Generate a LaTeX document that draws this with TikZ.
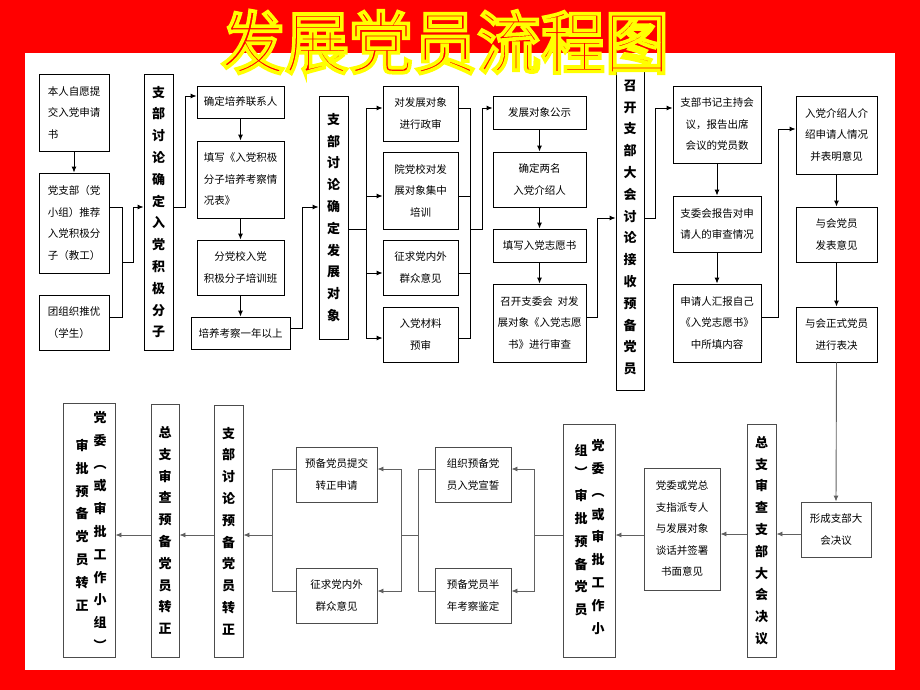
\documentclass[tikz,border=0pt]{standalone}
\usepackage{fontspec}
\usepackage{graphicx}
\setmainfont{Noto Sans CJK SC}
\usetikzlibrary{arrows.meta}
\tikzset{
  bx/.style={draw=black, line width=0.9pt, fill=white, inner sep=0pt, font=\fontsize{10.5}{21.5}\selectfont, align=center},
  lbx/.style={bx, align=left},
  vbx/.style={bx, font=\bfseries\fontsize{13}{21.8}\selectfont},
  gbx/.style={draw=black!70},
  vcol/.style={inner sep=0pt, align=center, font=\bfseries\fontsize{13}{22.8}\selectfont},
  ln/.style={line width=0.9pt, draw=black},
  arr/.style={ln, -{Latex[length=6pt,width=5pt]}},
  gl/.style={draw=black!62},
  tt/.style={inner sep=0pt, font=\fontsize{64}{64}\selectfont},
}
\newcommand\bx[7][]{\node[bx,#1,minimum width={(#5-#3)*1pt},minimum height={(#6-#4)*1pt}] (#2) at ({(#3+#5)/2},{(#4+#6)/2}) {#7};}
\newcommand\outlinedtitle[1]{\special{pdf:literal direct 2 Tr 3.5 w 1 1 0 RG 1 0 0 rg}#1\special{pdf:literal direct 0 Tr 1 w 0 0 0 RG}}
\begin{document}
\begin{tikzpicture}[x=1pt,y=-1pt]
\fill[red] (0,0) rectangle (920,690);
\fill[white] (25,53) rectangle (895,670);
\useasboundingbox (0,0) rectangle (920,690);
% y levels
\foreach \v in {96,108,129,196,207,218,229,273,317,328,338,469,534,535,591} {\coordinate (y\v) at (0,\v);}
% ---- top row boxes
\bx[lbx]{A1}{39}{74}{109}{151}{本人自愿提\\交入党申请\\书}
\bx[lbx]{A2}{39}{173}{109}{273}{党支部（党\\小组）推荐\\入党积极分\\子（教工）}
\bx[lbx]{A3}{39}{295}{109}{350}{团组织推优\\（学生）}
\bx[vbx]{B1}{144}{74}{173}{350}{支\\部\\讨\\论\\确\\定\\入\\党\\积\\极\\分\\子}
\bx{C1}{197}{86}{284}{118}{确定培养联系人}
\bx[lbx]{C2}{197}{141}{284}{218}{填写《入党积极\\分子培养考察情\\况表》}
\bx{C3}{197}{240}{284}{295}{分党校入党\\积极分子培训班}
\bx{C4}{191}{317}{290}{349}{培养考察一年以上}
\bx[vbx]{D1}{319}{96}{348}{339}{支\\部\\讨\\论\\确\\定\\发\\展\\对\\象}
\bx{E1}{383}{86}{458}{141}{对发展对象\\进行政审}
\bx{E2}{383}{152}{458}{229}{院党校对发\\展对象集中\\培训}
\bx{E3}{383}{240}{458}{295}{征求党内外\\群众意见}
\bx{E4}{383}{307}{458}{362}{入党材料\\预审}
\bx{F1}{493}{96}{586}{129}{发展对象公示}
\bx{F2}{493}{152}{586}{207}{确定两名\\入党介绍人}
\bx{F3}{493}{229}{586}{262}{填写入党志愿书}
\bx{F4}{493}{284}{586}{362}{召开支委会\ \ 对发\\展对象《入党志愿\\书》进行审查}
\bx[vbx]{G1}{616}{65}{644}{390}{召\\开\\支\\部\\大\\会\\讨\\论\\接\\收\\预\\备\\党\\员}
\bx{H1}{673}{86}{761}{163}{支部书记主持会\\议，报告出席\\会议的党员数}
\bx{H2}{673}{196}{761}{252}{支委会报告对申\\请人的审查情况}
\bx{H3}{673}{284}{761}{362}{申请人汇报自己\\《入党志愿书》\\中所填内容}
\bx{I1}{796}{96}{877}{174}{入党介绍人介\\绍申请人情况\\并表明意见}
\bx{I2}{796}{207}{877}{262}{与会党员\\发表意见}
\bx{I3}{796}{307}{877}{362}{与会正式党员\\进行表决}
% ---- bottom row boxes
\bx[gbx]{J1}{801}{502}{871}{557}{形成支部大\\会决议}
\bx[vbx,gbx]{K1}{747}{424}{776}{657}{总\\支\\审\\查\\支\\部\\大\\会\\决\\议}
\bx[gbx]{L1}{644}{468}{720}{590}{党委或党总\\支指派专人\\与发展对象\\谈话并签署\\书面意见}
\bx[gbx]{M1}{563}{424}{615}{657}{}
\node[vcol] (M1r) at (598,537) {党\\委\\︵\\或\\审\\批\\工\\作\\小};
\node[vcol] (M1l) at (581,530) {组\\︶\\审\\批\\预\\备\\党\\员};
\bx[gbx]{N1}{435}{447}{511}{502}{组织预备党\\员入党宣誓}
\bx[gbx]{N2}{435}{568}{511}{623}{预备党员半\\年考察鉴定}
\bx[gbx]{O1}{296}{447}{377}{502}{预备党员提交\\转正申请}
\bx[gbx]{O2}{296}{568}{377}{623}{征求党内外\\群众意见}
\bx[vbx,gbx]{P1}{214}{405}{243}{657}{支\\部\\讨\\论\\预\\备\\党\\员\\转\\正}
\bx[vbx,gbx]{Q1}{151}{404}{179}{657}{总\\支\\审\\查\\预\\备\\党\\员\\转\\正}
\bx[gbx]{R1}{63}{403}{115}{657}{}
\node[vcol] (R1r) at (100,531) {党\\委\\︵\\或\\审\\批\\工\\作\\小\\组\\︶};
\node[vcol] (R1l) at (82,525) {审\\批\\预\\备\\党\\员\\转\\正};
% ---- junction coordinates
\coordinate (jA) at (122,262); \coordinate (jA2) at (133,262);
\coordinate (jB) at (185,207);
\coordinate (jC) at (302,328);
\coordinate (jD) at (366,229);
\coordinate (jE) at (470,229); \coordinate (jE2) at (482,229);
\coordinate (jF) at (597,317);
\coordinate (jG) at (655,218);
\coordinate (jH) at (778,317);
\coordinate (jM) at (534,535);
\coordinate (jN) at (418,535); \coordinate (jN2) at (401,535);
\coordinate (jO) at (272,535);
% ---- top connectors
\draw[arr] (A1.south) -- (A2.north);
\draw[ln] (A2.east |- y207) -| (jA);
\draw[ln] (A3.east |- y317) -| (jA);
\draw[arr] (jA) -- (jA2) |- (B1.west |- y207);
\draw[arr] (B1.east |- y207) -- (jB) |- (C1.west |- y96);
\draw[arr] (C1.south) -- (C2.north);
\draw[arr] (C2.south) -- (C3.north);
\draw[arr] (C3.south) -- (C4.north);
\draw[arr] (C4.east |- y328) -- (jC) |- (D1.west |- y207);
\draw[ln] (D1.east |- y229) -- (jD);
\draw[arr] (jD) |- (E1.west |- y108);
\draw[arr] (jD) |- (E2.west |- y196);
\draw[arr] (jD) |- (E3.west |- y273);
\draw[arr] (jD) |- (E4.west |- y338);
\draw[ln] (E1.east |- y108) -| (jE);
\draw[ln] (E2.east |- y196) -| (jE);
\draw[ln] (E3.east |- y273) -| (jE);
\draw[ln] (E4.east |- y338) -| (jE);
\draw[arr] (jE) -- (jE2) |- (F1.west |- y108);
\draw[arr] (F1.south) -- (F2.north);
\draw[arr] (F2.south) -- (F3.north);
\draw[arr] (F3.south) -- (F4.north);
\draw[arr] (F4.east |- y317) -- (jF) |- (G1.west |- y218);
\draw[arr] (G1.east |- y218) -- (jG) |- (H1.west |- y108);
\draw[arr] (H1.south) -- (H2.north);
\draw[arr] (H2.south) -- (H3.north);
\draw[arr] (H3.east |- y317) -- (jH) |- (I1.west |- y129);
\draw[arr] (I1.south) -- (I2.north);
\draw[arr] (I2.south) -- (I3.north);
\draw[arr,gl] (I3.south) -- (J1.north);
% ---- bottom connectors
\draw[arr,gl] (J1.west |- y534) -- (K1.east |- y534);
\draw[arr,gl] (K1.west |- y534) -- (L1.east |- y534);
\draw[arr,gl] (L1.west |- y535) -- (M1.east |- y535);
\draw[ln,gl] (M1.west |- y535) -- (jM);
\draw[arr,gl] (jM) |- (N1.east |- y469);
\draw[arr,gl] (jM) |- (N2.east |- y591);
\draw[ln,gl] (N1.west |- y469) -| (jN);
\draw[ln,gl] (N2.west |- y591) -| (jN);
\draw[ln,gl] (jN) -- (jN2);
\draw[arr,gl] (jN2) |- (O1.east |- y469);
\draw[arr,gl] (jN2) |- (O2.east |- y591);
\draw[ln,gl] (O1.west |- y469) -| (jO);
\draw[ln,gl] (O2.west |- y591) -| (jO);
\draw[arr,gl] (jO) -- (P1.east |- y535);
\draw[arr,gl] (P1.west |- y535) -- (Q1.east |- y535);
\draw[arr,gl] (Q1.west |- y535) -- (R1.east |- y535);
% ---- title
\node[tt,text=red] (title) at (445,42) {\scalebox{1}[1.06]{\outlinedtitle{发展党员流程图}}};
\end{tikzpicture}
\end{document}
